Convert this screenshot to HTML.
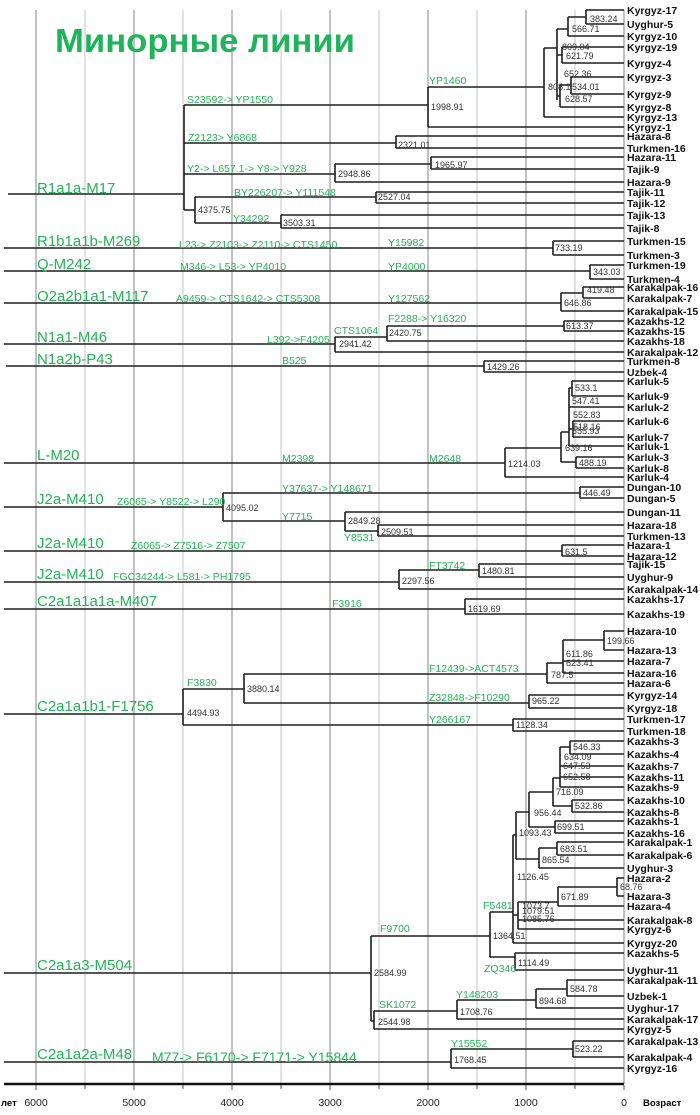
<!DOCTYPE html>
<html><head><meta charset="utf-8"><style>
html,body{margin:0;padding:0;background:#fff;}
svg{display:block;}
.g{stroke:#9a9a9a;stroke-width:1.2}
.gl{stroke:#cfcfcf;stroke-width:1.2}
.t{stroke:#1e1e1e;stroke-width:1.6;fill:none}
.lf{font:bold 10.5px "Liberation Sans",sans-serif;fill:#111}
.v{font:9px "Liberation Sans",sans-serif;fill:#333}
.m{font:10.5px "Liberation Sans",sans-serif;fill:#22b455}
.c{font:15px "Liberation Sans",sans-serif;fill:#22b455}
.ax{font:10.5px "Liberation Sans",sans-serif;fill:#222}
</style></head><body>
<svg width="700" height="1115" viewBox="0 0 700 1115" xmlns="http://www.w3.org/2000/svg">
<g>
<line class="g" x1="36" y1="10" x2="36" y2="1084"/>
<line class="gl" x1="85" y1="10" x2="85" y2="1084"/>
<line class="g" x1="134" y1="10" x2="134" y2="1084"/>
<line class="gl" x1="183" y1="10" x2="183" y2="1084"/>
<line class="g" x1="232" y1="10" x2="232" y2="1084"/>
<line class="gl" x1="281" y1="10" x2="281" y2="1084"/>
<line class="g" x1="330" y1="10" x2="330" y2="1084"/>
<line class="gl" x1="379" y1="10" x2="379" y2="1084"/>
<line class="g" x1="428" y1="10" x2="428" y2="1084"/>
<line class="gl" x1="477" y1="10" x2="477" y2="1084"/>
<line class="g" x1="526" y1="10" x2="526" y2="1084"/>
<line class="gl" x1="575" y1="10" x2="575" y2="1084"/>
<line class="g" x1="624" y1="10" x2="624" y2="1084"/>
</g>
<text x="55" y="52" textLength="300" lengthAdjust="spacingAndGlyphs" style="font:bold 33px 'Liberation Sans',sans-serif;fill:#1fb35a;">Минорные линии</text>

<path class="t" d="
M8 194H184 M184 105V210 M184 105H428 M428 87V127 M428 87H544 M544 48V117 M544 48H557 M557 29V100 M557 29H568 M568 17V36 M568 17H586 M586 10V24
M557 55H562 M562 47V63 M557 96H560 M560 85V107 M560 85H571 M571 77V94
M184 143H396 M396 136V148 M184 174H335 M335 164V182 M335 164H431 M431 157V169
M184 210H195 M195 197V223 M195 197H376 M376 192V203 M195 223H281 M281 215V228
M4 248H553 M553 241V255
M4 271H590 M590 265V279
M4 303H561 M561 293V311 M561 293H583 M583 287V298
M4 344H335 M335 337V352 M335 337H387 M387 326V341 M387 326H564 M564 321V331
M6 366H484 M484 361V372
M4 463H505 M505 448V477 M505 448H561 M561 432V462 M561 462H576 M576 457V468 M561 432H569 M569 388V446 M569 388H572 M572 381V396 M569 429H573 M573 421V437
M4 507H223 M223 493V521 M223 493H580 M580 487V498 M223 521H345 M345 512V531 M345 531H378 M378 525V536
M4 551H562 M562 545V556
M4 582H399 M399 570V589 M399 570H479 M479 564V577
M4 609H465 M465 599V614
M4 714H183 M183 689V725 M183 689H244 M244 674V703 M244 674H547 M547 663V683 M547 663H563 M563 640V673 M563 640H604 M604 631V650 M244 703H529 M529 695V708 M183 725H513 M513 719V731
M4 973H371 M371 936V1021 M371 936H490 M490 912V957 M490 912H513 M513 835V943 M513 835H516 M516 812V859 M516 812H529 M529 792V827 M529 792H553 M553 778V806 M553 778H560 M560 747V787 M560 747H570 M570 741V754 M553 806H572 M572 800V812 M529 827H555 M555 821V833 M516 859H539 M539 848V868 M539 848H557 M557 842V855 M513 915H518 M518 902V929 M518 902H558 M558 887V906 M558 887H617 M617 878V896 M490 957H515 M515 953V970
M371 1021H374 M374 1011V1029 M374 1011H457 M457 1000V1019 M457 1000H536 M536 989V1008 M536 989H567 M567 980V996
M4 1062H451 M451 1049V1068 M451 1049H573 M573 1041V1057
"/>
<path class="t" d="
M586 10H624 M586 24H624 M568 36H624 M562 47H624 M562 63H624 M571 77H624 M571 94H624 M560 107H624 M544 117H624 M428 127H624
M396 136H624 M396 148H624 M431 157H624 M431 169H624 M335 182H624 M376 192H624 M376 203H624 M281 215H624 M281 228H624
M553 241H624 M553 255H624 M590 265H624 M590 279H624 M583 287H624 M583 298H624 M561 311H624 M564 321H624 M564 331H624 M387 341H624 M335 352H624
M484 361H624 M484 372H624 M572 381H624 M572 396H624 M569 407H624 M573 421H624 M573 437H624 M569 446H624 M576 457H624 M576 468H624 M505 477H624
M580 487H624 M580 498H624 M345 512H624 M378 525H624 M378 536H624 M562 545H624 M562 556H624 M479 564H624 M479 577H624 M399 589H624 M465 599H624 M465 614H624
M604 631H624 M604 650H624 M563 661H624 M563 673H624 M547 683H624 M529 695H624 M529 708H624 M513 719H624 M513 731H624
M570 741H624 M570 754H624 M560 766H624 M560 777H624 M560 787H624 M572 800H624 M572 812H624 M555 821H624 M555 833H624 M557 842H624 M557 855H624 M539 868H624
M617 878H624 M617 896H624 M558 906H624 M518 920H624 M518 929H624 M513 943H624 M515 953H624 M515 970H624
M567 980H624 M567 996H624 M536 1008H624 M457 1019H624 M374 1029H624 M573 1041H624 M573 1057H624 M451 1068H624
"/>
<line x1="4" y1="1084" x2="624" y2="1084" stroke="#111" stroke-width="2.6"/>
<path stroke="#555" stroke-width="1" d="M36 1085V1090M85 1085V1089M134 1085V1090M183 1085V1089M232 1085V1090M281 1085V1089M330 1085V1090M379 1085V1089M428 1085V1090M477 1085V1089M526 1085V1090M575 1085V1089M624 1085V1090"/>
<g class="ax" text-anchor="middle">
<text x="36" y="1106">6000</text><text x="134" y="1106">5000</text><text x="232" y="1106">4000</text><text x="330" y="1106">3000</text><text x="428" y="1106">2000</text><text x="526" y="1106">1000</text><text x="624" y="1106">0</text>
</g>
<text x="1" y="1106" style="font:bold 9.5px 'Liberation Sans',sans-serif">лет</text>
<text x="643" y="1106" style="font:bold 9.5px 'Liberation Sans',sans-serif">Возраст</text>

<g class="lf">
<text x="627" y="14">Kyrgyz-17</text><text x="627" y="28">Uyghur-5</text><text x="627" y="40">Kyrgyz-10</text><text x="627" y="51">Kyrgyz-19</text><text x="627" y="67">Kyrgyz-4</text><text x="627" y="81">Kyrgyz-3</text><text x="627" y="98">Kyrgyz-9</text><text x="627" y="111">Kyrgyz-8</text><text x="627" y="121">Kyrgyz-13</text><text x="627" y="131">Kyrgyz-1</text>
<text x="627" y="140">Hazara-8</text><text x="627" y="152">Turkmen-16</text><text x="627" y="161">Hazara-11</text><text x="627" y="173">Tajik-9</text><text x="627" y="186">Hazara-9</text><text x="627" y="196">Tajik-11</text><text x="627" y="207">Tajik-12</text><text x="627" y="219">Tajik-13</text><text x="627" y="232">Tajik-8</text>
<text x="627" y="245">Turkmen-15</text><text x="627" y="259">Turkmen-3</text><text x="627" y="269">Turkmen-19</text><text x="627" y="283">Turkmen-4</text><text x="627" y="291">Karakalpak-16</text><text x="627" y="302">Karakalpak-7</text><text x="627" y="315">Karakalpak-15</text><text x="627" y="325">Kazakhs-12</text><text x="627" y="335">Kazakhs-15</text><text x="627" y="345">Kazakhs-18</text><text x="627" y="356">Karakalpak-12</text>
<text x="627" y="365">Turkmen-8</text><text x="627" y="376">Uzbek-4</text><text x="627" y="385">Karluk-5</text><text x="627" y="400">Karluk-9</text><text x="627" y="411">Karluk-2</text><text x="627" y="425">Karluk-6</text><text x="627" y="441">Karluk-7</text><text x="627" y="450">Karluk-1</text><text x="627" y="461">Karluk-3</text><text x="627" y="472">Karluk-8</text><text x="627" y="481">Karluk-4</text>
<text x="627" y="491">Dungan-10</text><text x="627" y="502">Dungan-5</text><text x="627" y="516">Dungan-11</text><text x="627" y="529">Hazara-18</text><text x="627" y="540">Turkmen-13</text><text x="627" y="549">Hazara-1</text><text x="627" y="560">Hazara-12</text><text x="627" y="568">Tajik-15</text><text x="627" y="581">Uyghur-9</text><text x="627" y="593">Karakalpak-14</text><text x="627" y="603">Kazakhs-17</text><text x="627" y="618">Kazakhs-19</text>
<text x="627" y="635">Hazara-10</text><text x="627" y="654">Hazara-13</text><text x="627" y="665">Hazara-7</text><text x="627" y="677">Hazara-16</text><text x="627" y="687">Hazara-6</text><text x="627" y="699">Kyrgyz-14</text><text x="627" y="712">Kyrgyz-18</text><text x="627" y="723">Turkmen-17</text><text x="627" y="735">Turkmen-18</text>
<text x="627" y="745">Kazakhs-3</text><text x="627" y="758">Kazakhs-4</text><text x="627" y="770">Kazakhs-7</text><text x="627" y="781">Kazakhs-11</text><text x="627" y="791">Kazakhs-9</text><text x="627" y="804">Kazakhs-10</text><text x="627" y="816">Kazakhs-8</text><text x="627" y="825">Kazakhs-1</text><text x="627" y="837">Kazakhs-16</text><text x="627" y="846">Karakalpak-1</text><text x="627" y="859">Karakalpak-6</text><text x="627" y="872">Uyghur-3</text>
<text x="627" y="882">Hazara-2</text><text x="627" y="900">Hazara-3</text><text x="627" y="910">Hazara-4</text><text x="627" y="924">Karakalpak-8</text><text x="627" y="933">Kyrgyz-6</text><text x="627" y="947">Kyrgyz-20</text><text x="627" y="957">Kazakhs-5</text><text x="627" y="974">Uyghur-11</text>
<text x="627" y="984">Karakalpak-11</text><text x="627" y="1000">Uzbek-1</text><text x="627" y="1012">Uyghur-17</text><text x="627" y="1023">Karakalpak-17</text><text x="627" y="1033">Kyrgyz-5</text><text x="627" y="1045">Karakalpak-13</text><text x="627" y="1061">Karakalpak-4</text><text x="627" y="1072">Kyrgyz-16</text>
</g>

<g class="v">
<text x="590" y="22">383.24</text><text x="572" y="32">566.71</text><text x="562" y="50">809.04</text><text x="566" y="59">621.79</text><text x="564" y="77">652.36</text><text x="548" y="90">808.1</text><text x="572" y="90">534.01</text><text x="565" y="102">628.57</text>
<text x="431" y="110">1998.91</text><text x="398" y="148">2321.01</text><text x="435" y="168">1965.97</text><text x="338" y="177">2948.86</text><text x="378" y="200">2527.04</text><text x="198" y="213">4375.75</text><text x="283" y="226">3503.31</text>
<text x="555" y="251">733.19</text><text x="593" y="275">343.03</text><text x="587" y="293">419.48</text><text x="564" y="306">646.86</text><text x="566" y="329">613.37</text><text x="389" y="336">2420.75</text><text x="339" y="347">2941.42</text><text x="487" y="370">1429.26</text>
<text x="575" y="391">533.1</text><text x="572" y="404">547.41</text><text x="573" y="418">552.83</text><text x="573" y="430">518.16</text><text x="572" y="434">555.93</text><text x="565" y="451">639.16</text><text x="579" y="466">488.19</text><text x="508" y="467">1214.03</text>
<text x="583" y="496">446.49</text><text x="226" y="511">4095.02</text><text x="348" y="524">2849.28</text><text x="381" y="535">2509.51</text><text x="565" y="555">631.5</text><text x="482" y="574">1480.81</text><text x="402" y="584">2297.56</text><text x="468" y="612">1619.69</text>
<text x="607" y="644">199.66</text><text x="566" y="657">611.86</text><text x="566" y="666">623.41</text><text x="551" y="678">787.5</text><text x="247" y="692">3880.14</text><text x="187" y="716">4494.93</text><text x="532" y="704">965.22</text><text x="516" y="728">1128.34</text>
<text x="573" y="750">546.33</text><text x="564" y="760">634.09</text><text x="563" y="769">647.53</text><text x="563" y="780">652.58</text><text x="556" y="795">716.09</text><text x="575" y="809">532.86</text><text x="534" y="816">956.44</text><text x="557" y="830">699.51</text><text x="519" y="836">1093.43</text><text x="560" y="852">683.51</text><text x="542" y="863">865.54</text>
<text x="517" y="880">1126.45</text><text x="620" y="890">68.76</text><text x="561" y="900">671.89</text><text x="522" y="909">1073.7</text><text x="522" y="914">1079.51</text><text x="522" y="922">1085.76</text><text x="493" y="939">1364.51</text><text x="374" y="976">2584.99</text><text x="518" y="966">1114.49</text>
<text x="570" y="992">584.78</text><text x="539" y="1004">894.68</text><text x="460" y="1015">1708.76</text><text x="378" y="1025">2544.98</text><text x="575" y="1052">523.22</text><text x="454" y="1063">1768.45</text>
</g>

<g class="m">
<text x="187" y="103">S23592-&gt; YP1550</text><text x="188" y="141">Z2123&gt; Y6868</text><text x="187" y="172">Y2-&gt; L657.1-&gt; Y8-&gt; Y928</text><text x="234" y="196">BY226207-&gt; Y111548</text><text x="233" y="222">Y34292</text><text x="429" y="84">YP1460</text>
<text x="179" y="248">L23-&gt; Z2103-&gt; Z2110-&gt; CTS1450</text><text x="388" y="246">Y15982</text><text x="180" y="270">M346-&gt; L53-&gt; YP4010</text><text x="388" y="270">YP4000</text><text x="176" y="302">A9459-&gt; CTS1642-&gt; CTS5308</text><text x="388" y="302">Y127562</text>
<text x="388" y="322">F2288-&gt; Y16320</text><text x="334" y="334">CTS1064</text><text x="267" y="343">L392-&gt;F4205</text><text x="282" y="364">B525</text><text x="282" y="462">M2398</text><text x="429" y="462">M2648</text>
<text x="117" y="505">Z6065-&gt; Y8522-&gt; L290</text><text x="282" y="492">Y37637-&gt; Y148671</text><text x="282" y="520">Y7715</text><text x="344" y="541">Y8531</text><text x="131" y="549">Z6065-&gt; Z7516-&gt; Z7507</text><text x="113" y="580">FGC34244-&gt; L581-&gt; PH1795</text><text x="429" y="569">FT3742</text><text x="332" y="607">F3916</text>
<text x="187" y="686">F3830</text><text x="429" y="672">F12439-&gt;ACT4573</text><text x="429" y="701">Z32848-&gt;F10290</text><text x="429" y="723">Y266167</text>
<text x="380" y="932">F9700</text><text x="483" y="909">F5481</text><text x="484" y="972">ZQ346</text><text x="379" y="1008">SK1072</text><text x="456" y="998">Y148203</text><text x="451" y="1047">Y15552</text>
<text x="152" y="1062" style="font-size:14px">M77-&gt; F6170-&gt; F7171-&gt; Y15844</text>
</g>

<g class="c">
<text x="37" y="193">R1a1a-M17</text><text x="37" y="246">R1b1a1b-M269</text><text x="37" y="269">Q-M242</text><text x="37" y="301">O2a2b1a1-M117</text><text x="37" y="342">N1a1-M46</text><text x="37" y="364">N1a2b-P43</text><text x="37" y="460">L-M20</text>
<text x="37" y="504">J2a-M410</text><text x="37" y="548">J2a-M410</text><text x="37" y="579">J2a-M410</text><text x="37" y="606">C2a1a1a1a-M407</text><text x="37" y="711">C2a1a1b1-F1756</text><text x="37" y="970">C2a1a3-M504</text><text x="37" y="1059">C2a1a2a-M48</text>
</g>
</svg>
</body></html>
